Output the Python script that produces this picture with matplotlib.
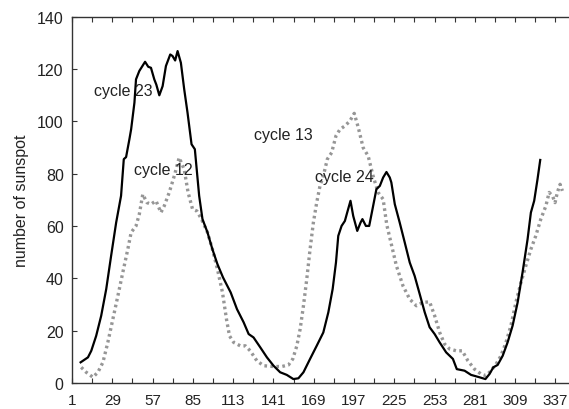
import numpy as np
import matplotlib
matplotlib.use("Agg")
import matplotlib.pyplot as plt

plt.rcParams['font.family'] = ['Liberation Sans', 'DejaVu Sans']

# month index and smoothed sunspot number, cycles 23-24 (solid)
month_c23 = [7.0, 12.1, 14.4, 17.8, 21.3, 24.8, 28.2, 31.7, 35.1, 37.0, 38.6, 40.9, 42.1,
             44.4, 45.5, 47.8, 51.8, 54.0, 55.9, 58.2, 59.6, 61.7, 64.0, 66.3, 69.3, 70.9,
             72.7, 74.4, 76.7, 79.0, 81.3, 84.1, 86.4, 89.4, 91.7, 95.2, 98.6, 102.1, 106.0,
             111.3, 115.7, 120.3, 123.8, 127.2, 131.9, 136.5, 141.1, 145.7, 150.3, 154.9,
             158.4, 161.9, 166.5, 171.1, 175.7, 179.2, 182.2, 184.5, 186.1, 188.4, 190.7,
             192.3, 194.6, 196.5, 199.3, 201.6, 202.9, 205.3, 207.6, 209.9, 212.6, 215.0,
             217.3, 219.6, 221.9, 223.0, 225.4, 228.8, 232.3, 235.8, 239.2, 242.7, 246.2,
             249.6, 253.1, 256.6, 261.1, 265.8, 268.5, 273.9, 278.4, 284.2, 288.4, 291.2,
             293.9, 296.9, 300.4, 303.8, 307.3, 310.8, 314.2, 317.7, 320.0, 322.3, 324.6,
             326.5]
ssn_c23 = [7.9, 9.8, 12.3, 18.0, 25.7, 35.9, 48.6, 61.3, 71.5, 85.5, 86.3, 93.1, 96.9,
           107.1, 116.0, 119.2, 122.7, 120.8, 120.4, 116.0, 114.0, 109.9, 113.4, 121.1, 125.5,
           124.9, 123.2, 126.8, 122.3, 112.2, 103.3, 91.2, 89.3, 71.5, 62.6, 57.5, 51.1, 45.4,
           40.3, 34.6, 28.2, 23.2, 18.7, 17.4, 13.6, 9.8, 6.6, 4.1, 3.1, 1.5,
           1.8, 4.1, 9.2, 14.2, 19.3, 27.0, 35.9, 46.0, 56.2, 60.0, 61.9,
           65.1, 69.6, 63.8, 58.1, 61.3, 62.6, 60.0, 60.0, 66.4, 74.0, 75.3,
           78.5, 80.6, 78.5, 76.6, 68.3, 61.3, 53.7, 46.0, 40.9, 34.0, 27.0,
           21.3, 18.7, 15.5, 11.7, 9.2, 5.3, 4.7, 3.1, 2.2, 1.5, 3.4,
           6.0, 6.9, 10.4, 15.5, 21.9, 30.8, 42.2, 54.9, 65.1, 69.6, 77.8,
           85.2]

# cycles 12-13 (dotted)
month_c12 = [7.4, 10.9, 15.5, 19.0, 22.5, 25.9, 29.4, 32.9, 36.3, 39.8, 42.1, 45.5, 47.8,
             50.2, 53.1, 55.9, 59.4, 62.8, 65.1, 68.6, 72.1, 75.5, 79.0, 81.7, 84.8, 87.8,
             91.0, 95.2, 98.6, 102.1, 105.6, 108.5, 110.5, 113.4, 118.0, 121.5, 124.9, 129.5,
             134.2, 141.1, 146.9, 151.5, 154.5, 157.3, 159.6, 161.9, 164.2, 166.5, 168.8,
             171.1, 173.4, 175.7, 178.5, 181.5, 184.5, 187.3, 190.7, 194.2, 197.2, 200.0,
             203.4, 206.9, 210.3, 213.8, 217.3, 219.8, 223.0, 226.5, 231.1, 235.8, 240.4,
             245.0, 249.6, 253.1, 256.6, 260.0, 263.5, 268.1, 272.3, 276.2, 280.8, 285.4,
             288.8, 292.3, 295.8, 299.2, 302.7, 306.1, 309.6, 313.1, 316.5, 320.0, 323.4,
             326.9, 330.4, 332.7, 335.0, 336.8, 338.4, 340.3, 341.9]
ssn_c12 = [6.0, 4.1, 2.2, 4.1, 7.9, 15.5, 24.4, 33.3, 42.2, 51.1, 57.5, 60.0, 64.5,
           72.1, 68.9, 68.3, 69.6, 65.1, 67.6, 72.8, 79.1, 86.1, 81.6, 72.8, 66.4, 65.7,
           62.6, 57.5, 51.1, 43.5, 34.6, 24.0, 18.0, 15.5, 14.2, 14.2, 12.3, 8.5,
           6.6, 6.3, 6.3, 6.9, 9.2, 14.2, 20.6, 29.5, 39.7, 51.1, 61.3,
           68.9, 75.3, 79.1, 85.5, 88.0, 94.4, 96.9, 98.2, 100.1, 103.0, 97.6,
           89.9, 86.7, 79.1, 72.8, 70.2, 60.5, 53.0, 44.8, 37.1, 32.0, 29.5,
           30.8, 31.0, 25.7, 19.3, 14.9, 13.0, 12.3, 12.3, 8.5, 5.3, 3.4,
           2.8, 4.7, 7.2, 10.4, 15.5, 21.9, 30.8, 38.4, 44.8, 51.1, 56.2,
           62.6, 67.6, 72.8, 71.5, 68.9, 72.8, 75.9, 73.4]

xtick_labels = [1, 29, 57, 85, 113, 141, 169, 197, 225, 253, 281, 309, 337]
ytick_labels = [0, 20, 40, 60, 80, 100, 120, 140]

labels = ["cycle 23", "cycle 12", "cycle 13", "cycle 24"]
label_x = [16.4, 44.1, 127.2, 170.1]
label_y = [111.8, 81.6, 95.0, 79.0]

fig = plt.figure(figsize=(5.69, 4.10), dpi=100)
ax = fig.add_axes([72 / 569, 1 - 384 / 410, 1 - 72 / 569, (384 - 17.5) / 410])

ax.plot(month_c12, ssn_c12, color='#969696', lw=2.4, linestyle=(0, (0.8, 1.0)))
ax.plot(month_c23, ssn_c23, color='black', lw=1.6)

for t, tx, ty in zip(labels, label_x, label_y):
    ax.text(tx, ty, t, ha='left', va='center', fontsize=11.5, color='#222222')

ax.set_xlim(1, 346.5)
ax.set_ylim(0, 140)
ax.set_xticks(xtick_labels)
ax.set_xticks(np.arange(15, 345, 28), minor=True)
ax.set_yticks(ytick_labels)
ax.tick_params(axis='both', which='both', direction='in', top=True, right=False,
               color='#333333', labelcolor='#222222')
ax.tick_params(axis='y', labelsize=11.5)
ax.tick_params(axis='x', labelsize=11)
ax.tick_params(axis='both', which='major', length=3.5, width=0.8)
ax.tick_params(axis='x', which='minor', length=3.5, width=0.8)
ax.tick_params(axis='x', pad=7)
ax.tick_params(axis='y', pad=6)
ax.set_ylabel("number of sunspot", fontsize=11.5, color='#222222', labelpad=6)

for side in ['left', 'bottom', 'top']:
    ax.spines[side].set_color('#333333')
    ax.spines[side].set_linewidth(1.0)
ax.spines['right'].set_visible(False)

fig.savefig("out.png", dpi=100)
